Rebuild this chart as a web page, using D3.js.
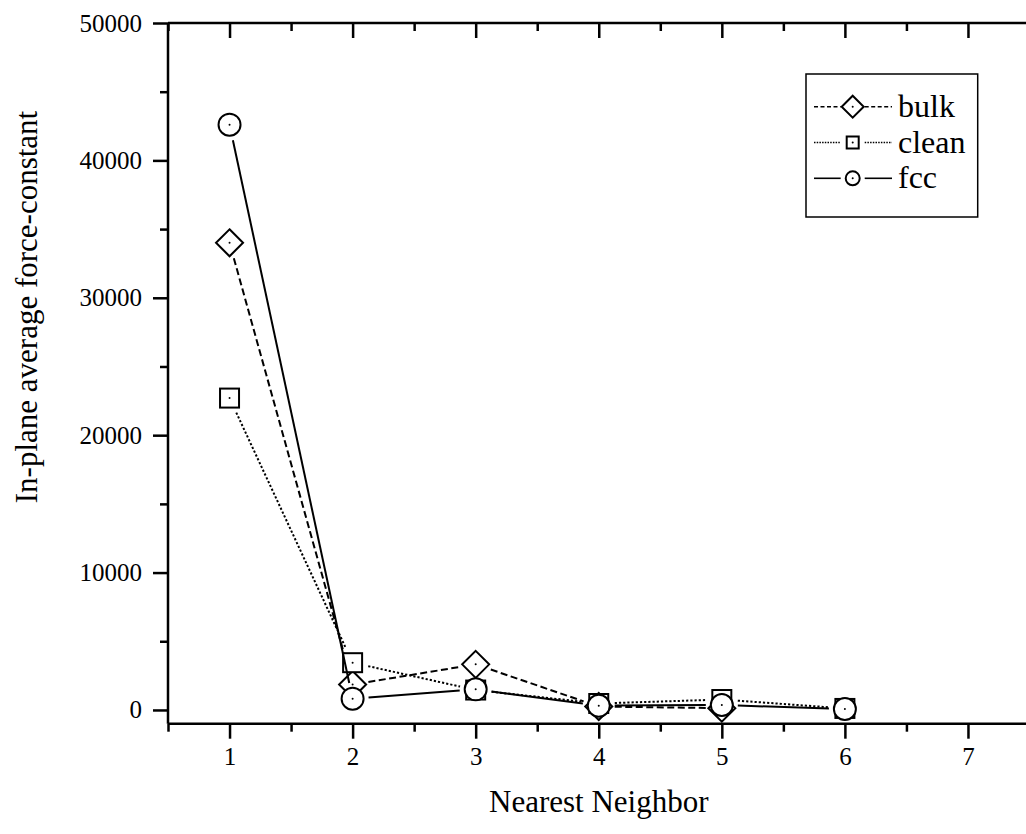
<!DOCTYPE html>
<html>
<head>
<meta charset="utf-8">
<script src="https://cdn.jsdelivr.net/npm/d3@7"></script>
<style>
  html, body { margin: 0; padding: 0; background: #fff; }
  svg { display: block; font-family: "Liberation Serif", "Times New Roman", serif; }
</style>
</head>
<body>
<svg id="chart" width="1026" height="834"></svg>
<script>
// ---- data ----
const neighbors = [1, 2, 3, 4, 5, 6];
const bulkValues = [34000, 1850, 3320, 250, 130];
const cleanValues = [22700, 3440, 1450, 470, 760, 110];
const fccValues = [42600, 820, 1500, 310, 360, 70];
const seriesNames = ["bulk", "clean", "fcc"];
const xTickValues = [1, 2, 3, 4, 5, 6, 7];
const yTickValues = [0, 10000, 20000, 30000, 40000, 50000];
const xTitle = "Nearest Neighbor";
const yTitle = "In-plane average force-constant";

// ---- layout ----
const svg = d3.select("#chart");
const x = d3.scaleLinear().domain([0.5, 7.5]).range([168, 1029.5]);
const y = d3.scaleLinear().domain([-1000, 50000]).range([723.7, 23]);
const x0 = x.range()[0], x1 = x.range()[1], yB = y.range()[0], yT = y.range()[1];

const axisW = 2.5;
function styleAxis(g) {
  g.select(".domain").remove();
  g.selectAll(".tick line").attr("stroke", "#000").attr("stroke-width", axisW);
  g.selectAll(".tick text").attr("fill", "#000").style("font-size", "25px")
    .style("font-family", "'Liberation Serif','Times New Roman',serif");
}
const xMinor = d3.range(0.5, 7.51, 0.5).filter(v => Math.abs(v - Math.round(v)) > 0.01);
const yMinor = d3.range(5000, 50000, 10000);

// bottom axis
svg.append("g").attr("transform", `translate(0,${yB})`)
  .call(d3.axisBottom(x).tickValues(xMinor).tickSize(8).tickFormat(""))
  .call(styleAxis);
svg.append("g").attr("transform", `translate(0,${yB})`)
  .call(d3.axisBottom(x).tickValues(xTickValues).tickSize(15).tickPadding(9).tickFormat(d3.format("d")))
  .call(styleAxis);
// top axis (ticks inward)
svg.append("g").attr("transform", `translate(0,${yT})`)
  .call(d3.axisBottom(x).tickValues(xMinor).tickSize(8).tickFormat(""))
  .call(styleAxis);
svg.append("g").attr("transform", `translate(0,${yT})`)
  .call(d3.axisBottom(x).tickValues(xTickValues).tickSize(15).tickFormat(""))
  .call(styleAxis);
// left axis
svg.append("g").attr("transform", `translate(${x0},0)`)
  .call(d3.axisLeft(y).tickValues(yMinor).tickSize(8).tickFormat(""))
  .call(styleAxis);
svg.append("g").attr("transform", `translate(${x0},0)`)
  .call(d3.axisLeft(y).tickValues(yTickValues).tickSize(15).tickPadding(11).tickFormat(d3.format("d")))
  .call(styleAxis);

// frame lines
svg.append("line").attr("x1", x0).attr("x2", x1).attr("y1", yB).attr("y2", yB)
  .attr("stroke", "#000").attr("stroke-width", axisW);
svg.append("line").attr("x1", x0).attr("x2", x1).attr("y1", yT).attr("y2", yT)
  .attr("stroke", "#000").attr("stroke-width", axisW);
svg.append("line").attr("x1", x0).attr("x2", x0).attr("y1", yT).attr("y2", yB)
  .attr("stroke", "#000").attr("stroke-width", axisW);
svg.append("line").attr("x1", x1).attr("x2", x1).attr("y1", yT).attr("y2", yB)
  .attr("stroke", "#000").attr("stroke-width", axisW);

// axis titles
svg.append("text").attr("x", (x0 + x1) / 2).attr("y", 812).attr("text-anchor", "middle")
  .style("font-size", "31px").text(xTitle);
svg.append("text").attr("transform", "translate(37,307) rotate(-90)").attr("text-anchor", "middle")
  .style("font-size", "31px").text(yTitle);

// ---- series ----
const styles = {
  bulk:  { dash: "7,3.5", symbol: "diamond" },
  clean: { dash: "2.2,2", symbol: "square" },
  fcc:   { dash: null,   symbol: "circle" }
};
const dataMap = { bulk: bulkValues, clean: cleanValues, fcc: fccValues };

function drawMarker(g, type, cx, cy, s) {
  let m;
  if (type === "circle") {
    m = g.append("circle").attr("cx", cx).attr("cy", cy).attr("r", s.r);
  } else if (type === "square") {
    m = g.append("rect").attr("x", cx - s.sq / 2).attr("y", cy - s.sq / 2)
      .attr("width", s.sq).attr("height", s.sq);
  } else {
    const h = s.dm;
    m = g.append("path").attr("d", `M${cx},${cy - h}L${cx + h},${cy}L${cx},${cy + h}L${cx - h},${cy}Z`);
  }
  m.attr("fill", "#fff").attr("stroke", "#000").attr("stroke-width", 2);
  g.append("circle").attr("cx", cx).attr("cy", cy).attr("r", 1).attr("fill", "#000");
}

const gap = 16;
const plotSizes = { r: 11, sq: 19, dm: 13.5 };
seriesNames.forEach(name => {
  const vals = dataMap[name];
  const pts = vals.map((v, i) => [x(neighbors[i]), y(v)]);
  const g = svg.append("g");
  for (let i = 0; i < pts.length - 1; i++) {
    const [ax, ay] = pts[i], [bx, by] = pts[i + 1];
    const dx = bx - ax, dy = by - ay, L = Math.hypot(dx, dy);
    if (L <= 2 * gap) continue;
    const ux = dx / L, uy = dy / L;
    const ln = g.append("line")
      .attr("x1", ax + ux * gap).attr("y1", ay + uy * gap)
      .attr("x2", bx - ux * gap).attr("y2", by - uy * gap)
      .attr("stroke", "#000").attr("stroke-width", 2);
    if (styles[name].dash) ln.attr("stroke-dasharray", styles[name].dash);
  }
  pts.forEach(p => drawMarker(g, styles[name].symbol, p[0], p[1], plotSizes));
});

// ---- legend ----
const lg = svg.append("g");
const legLeft = 806, legRight = 977.7, legTop = 74, legBottom = 217;
lg.append("rect").attr("x", legLeft).attr("y", legTop)
  .attr("width", legRight - legLeft).attr("height", legBottom - legTop)
  .attr("fill", "#fff").attr("stroke", "#000").attr("stroke-width", 1.5);
const legSizes = { r: 7, sq: 12, dm: 11 };
const legY = d3.scalePoint().domain(seriesNames).range([106.7, 178.3]);
const mx = 852.7;
seriesNames.forEach(name => {
  const cy = legY(name);
  const dash = name === "bulk" ? "4,2.5" : name === "clean" ? "1.5,1.2" : null;
  [[814, mx - 12], [mx + 12, 892]].forEach(([a, b]) => {
    const ln = lg.append("line").attr("x1", a).attr("x2", b).attr("y1", cy).attr("y2", cy)
      .attr("stroke", "#000").attr("stroke-width", 1.6);
    if (dash) ln.attr("stroke-dasharray", dash);
  });
  drawMarker(lg, styles[name].symbol, mx, cy, legSizes);
  lg.append("text").attr("x", 898).attr("y", cy + 10).style("font-size", "32px").text(name);
});
</script>
</body>
</html>
